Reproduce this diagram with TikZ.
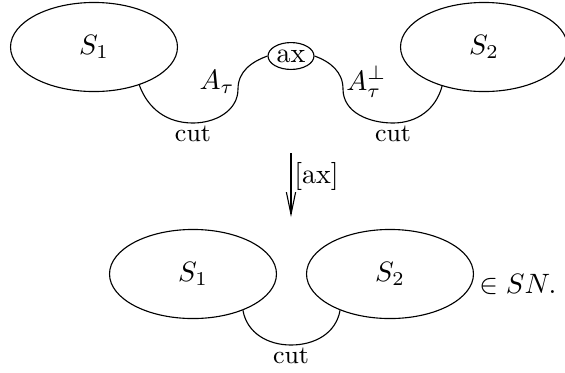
\documentclass[tikz,border=0pt]{standalone}
\usetikzlibrary{shapes.geometric}
\usetikzlibrary{arrows.meta}

\begin{document}
\begin{tikzpicture}[
      x=0.357pt, y=0.357pt,
      net/.style={draw, ellipse, minimum width=59.6pt, minimum height=31.8pt},
      axnode/.style={draw, ellipse, inner sep=0pt, minimum width=16.4pt,
                     minimum height=9.6pt},
      lbl/.style={inner sep=1pt},
      cutlbl/.style={inner sep=1pt, font=\small},
    ]
    \useasboundingbox (0,0) rectangle (565,372);

    % before the axiom step
    \node[net] (s1) at (94,325) {$S_1$};
    \node[net] (s2) at (484,325) {$S_2$};
    \node[axnode] (ax) at (291,316) {ax};

    \coordinate (cl) at (193,249);
    \coordinate (al) at (238,283);
    \coordinate (ar) at (343,283);
    \coordinate (cr) at (393,249);

    % cut S1 -- ax, and ax -- S2
    \draw (s1.-40) to[out=-70, in=180] (cl) to[out=0, in=-90] (al)
      to[out=90, in=-160] (ax.west);
    \draw (ax.east) to[out=-20, in=90] (ar) to[out=-90, in=180] (cr)
      to[out=0, in=-105] (s2.-137);
    \node[cutlbl, below] (cut1) at (cl) {cut};
    \node[cutlbl, below] (cut2) at (cr) {cut};
    \node[lbl, anchor=east] (at1) at ([yshift=2.6pt]al) {$A_\tau$};
    \node[lbl, anchor=west] (at2) at ([yshift=2.6pt]ar) {$A_\tau^\perp$};

    % reduction step
    \coordinate (red1) at (291,219);
    \coordinate (red2) at (291,155);
    \draw[-{Straight Barb[length=7.9pt, width=3.3pt]}] (red1) -- (red2)
      node[pos=0.37, right, lbl] (step1) {[ax]};

    % after the axiom step
    \node[net] (t1) at (193,98) {$S_1$};
    \node[net] (t2) at (390,98) {$S_2$};
    \node[lbl, anchor=west] (sn) at (476,88) {$\in SN.$};
    \coordinate (cb) at (291,27);
    \draw (t1.-36) to[out=-80, in=180] (cb) to[out=0, in=-100] (t2.-144);
    \node[cutlbl, below] (cut3) at (cb) {cut};
\end{tikzpicture}
\end{document}
